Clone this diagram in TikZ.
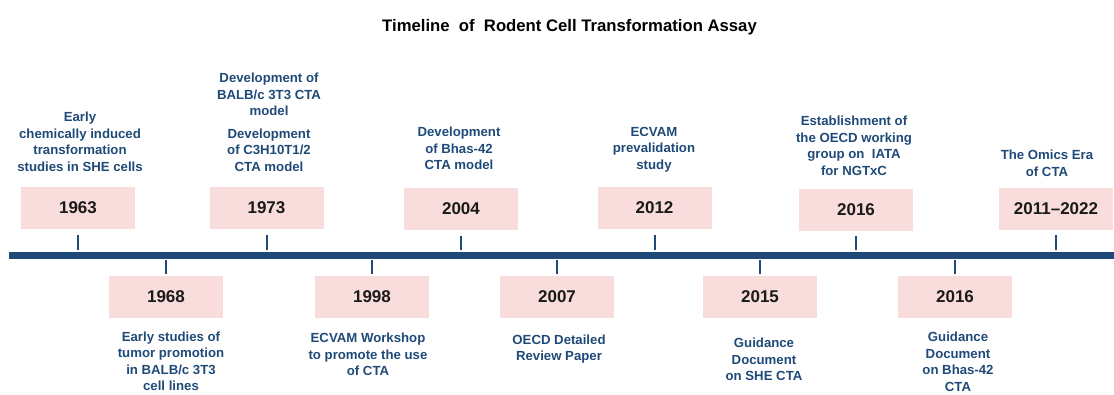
\documentclass[tikz,border=0pt]{standalone}
\usepackage{fontspec}
\setmainfont{Liberation Sans}

\definecolor{axisblue}{HTML}{1F4A78}
\definecolor{boxpink}{HTML}{F9DDDD}
\definecolor{yearblack}{HTML}{1A1A1A}

\tikzset{
    yearbox/.style={fill=boxpink, minimum width=114pt, minimum height=42pt, inner sep=0pt,
        text=yearblack, font=\fontsize{17}{20}\selectfont\bfseries},
    event/.style={align=center, inner sep=0pt, text=axisblue,
        font=\fontsize{13.2}{16.5}\selectfont\bfseries},
    yeartick/.style={axisblue, line width=2pt},
}

\begin{document}
\begin{tikzpicture}[x=1pt, y=-1pt]
        \useasboundingbox (0,0) rectangle (1114,394);

        \node[font=\fontsize{16.7}{20}\selectfont\bfseries] (title) at (569.5,27) {Timeline\ \ of\ \ Rodent Cell Transformation Assay};

        % axis
        \fill[axisblue] (9,252) rectangle (1114,259);
        \coordinate (axis) at (0,255.5);

        % above the axis
        \node[yearbox] (y1963) at (78,207.5) {1963};
        \node[yearbox] (y1973) at (266.5,208) {1973};
        \node[yearbox] (y2004) at (461,208.5) {2004};
        \node[yearbox] (y2012) at (654.5,208) {2012};
        \node[yearbox] (y2016a) at (856,209.5) {2016};
        \node[yearbox] (y2022) at (1056,209) {2011--2022};

        \node[event] (e1963) at (80,142) {Early\\chemically induced\\transformation\\studies in SHE cells};
        \node[event] (e1973) at (269,122.5) {Development of\\BALB/c 3T3 CTA\\model\\[6pt]Development\\of C3H10T1/2\\CTA model};
        \node[event] (e2004) at (459,148.5) {Development\\of Bhas-42\\CTA model};
        \node[event] (e2012) at (654,149.5) {ECVAM\\prevalidation\\study};
        \node[event] (e2016a) at (854,146) {Establishment of\\the OECD working\\group on\ \ IATA\\for NGTxC};
        \node[event] (e2022) at (1047,163.5) {The Omics Era\\of CTA};

        \draw[yeartick, shorten <=6pt, shorten >=5.5pt] (y1963.south) -- (y1963.south |- axis);
        \draw[yeartick, shorten <=6pt, shorten >=5.5pt] (y1973.south) -- (y1973.south |- axis);
        \draw[yeartick, shorten <=6pt, shorten >=5.5pt] (y2004.south) -- (y2004.south |- axis);
        \draw[yeartick, shorten <=6pt, shorten >=5.5pt] (y2012.south) -- (y2012.south |- axis);
        \draw[yeartick, shorten <=5pt, shorten >=5.5pt] (y2016a.south) -- (y2016a.south |- axis);
        \draw[yeartick, shorten <=5pt, shorten >=5.5pt] (y2022.south) -- (y2022.south |- axis);

        % below the axis
        \node[yearbox] (y1968) at (166,297) {1968};
        \node[yearbox] (y1998) at (372,297) {1998};
        \node[yearbox] (y2007) at (557,297) {2007};
        \node[yearbox] (y2015) at (760,297) {2015};
        \node[yearbox] (y2016b) at (955,297) {2016};

        \node[event] (e1968) at (171,361.5) {Early studies of\\tumor promotion\\in BALB/c 3T3\\cell lines};
        \node[event] (e1998) at (368,354.5) {ECVAM Workshop\\to promote the use\\of CTA};
        \node[event] (e2007) at (559,349) {OECD Detailed\\Review Paper};
        \node[event] (e2015) at (764,359.5) {Guidance\\Document\\on SHE CTA};
        \node[event] (e2016b) at (958,362) {Guidance\\Document\\on Bhas-42\\CTA};

        \draw[yeartick, shorten <=2pt, shorten >=4.5pt] (y1968.north) -- (y1968.north |- axis);
        \draw[yeartick, shorten <=2pt, shorten >=4.5pt] (y1998.north) -- (y1998.north |- axis);
        \draw[yeartick, shorten <=2pt, shorten >=4.5pt] (y2007.north) -- (y2007.north |- axis);
        \draw[yeartick, shorten <=2pt, shorten >=4.5pt] (y2015.north) -- (y2015.north |- axis);
        \draw[yeartick, shorten <=2pt, shorten >=4.5pt] (y2016b.north) -- (y2016b.north |- axis);
    \end{tikzpicture}
\end{document}
